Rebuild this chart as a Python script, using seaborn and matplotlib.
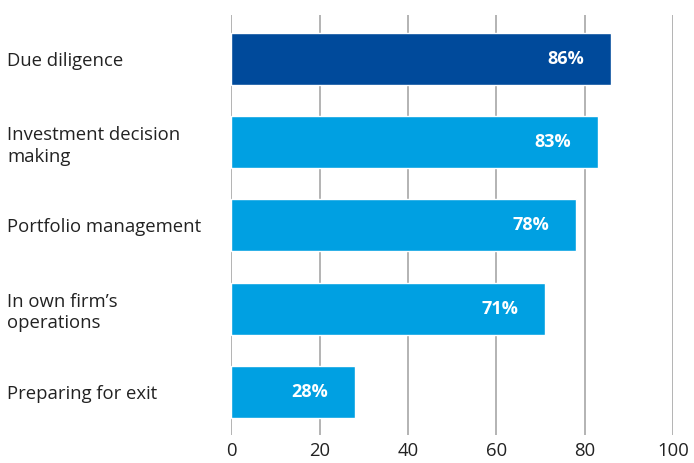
import matplotlib
matplotlib.use("Agg")
import matplotlib.pyplot as plt
from matplotlib.transforms import offset_copy
import seaborn as sns
import pandas as pd

categories = [
    "Due diligence",
    "Investment decision\nmaking",
    "Portfolio management",
    "In own firm’s\noperations",
    "Preparing for exit",
]
values = [86, 83, 78, 71, 28]
bar_colors = ["#004a9b", "#00a0e2", "#00a0e2", "#00a0e2", "#00a0e2"]
x_ticks = [0, 20, 40, 60, 80, 100]

sns.set_theme(style="white")
plt.rcParams["font.family"] = ["Open Sans", "DejaVu Sans"]

df = pd.DataFrame({"category": categories, "value": values})

fig = plt.figure(figsize=(6.94, 4.63), dpi=100)
ax = fig.add_axes([0.333, 0.0605, 0.637, 0.907])

for x in x_ticks:
    ax.axvline(x, color="#b3b3b3", lw=1.4, zorder=0)

sns.barplot(
    data=df, x="value", y="category", hue="category",
    palette=dict(zip(categories, bar_colors)), legend=False,
    width=0.625, saturation=1, ax=ax, zorder=2,
)

label_tr = offset_copy(ax.transData, fig=fig, x=-27, y=0, units="dots")
for i, v in enumerate(values):
    ax.text(v, i, f"{v}%", transform=label_tr, ha="right", va="center",
            color="white", fontsize=13, fontweight="bold", zorder=3)

ax.set_xlim(0, 100)
ax.set_ylim(4.52, -0.53)
ax.set_xticks(x_ticks)
ax.set_xlabel("")
ax.set_ylabel("")
for s in ax.spines.values():
    s.set_visible(False)

ax.tick_params(axis="x", length=0, pad=5, labelsize=13.3, labelcolor="#222222")
ax.tick_params(axis="y", length=0, pad=161, labelsize=13.3, labelcolor="#222222")
for lbl in ax.get_yticklabels():
    lbl.set_ha("left")
    lbl.set_linespacing(1.25)

fig.savefig("out.png", dpi=100)
